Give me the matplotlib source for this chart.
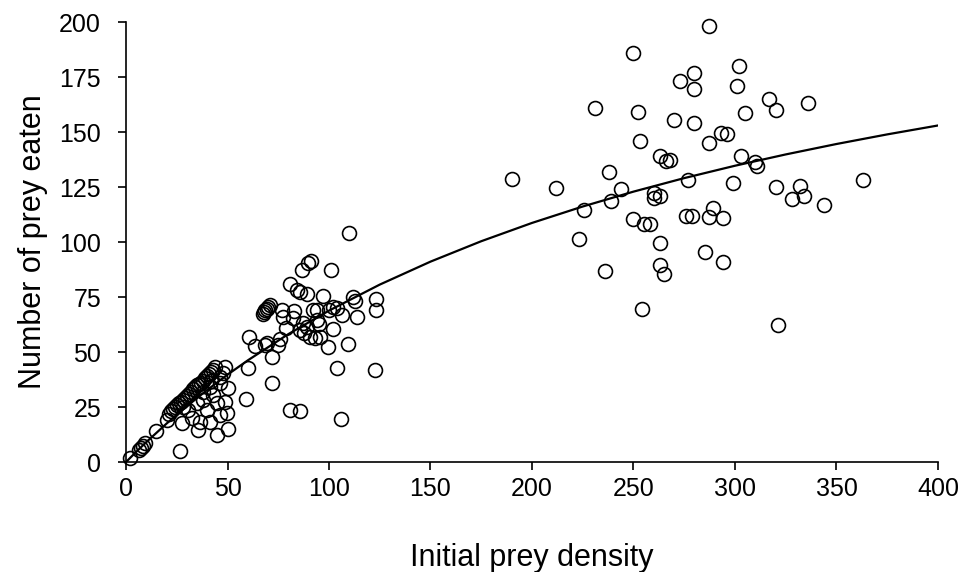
import numpy as np
import matplotlib.pyplot as plt

plt.rcParams['font.family'] = ['Liberation Sans', 'DejaVu Sans']

# observed points: initial prey density vs number eaten
low_x = [2, 6.5, 7.5, 8.5, 9.5, 15, 20, 26.6,
         21, 22, 23, 24, 25, 26, 27, 28, 29, 30, 31, 32, 33, 34, 35, 36,
         37, 38, 39, 40, 41, 42, 43, 44,
         48.8, 50.4, 50.4, 44.7, 35.6, 27.4, 32.4, 36.5, 41.4, 46.3, 49.6,
         48.8, 39.7, 30.7, 43, 41.4, 46.3, 44.7, 38.1, 34.8, 47.9, 46.3,
         42, 38, 28]
low_y = [2, 5.5, 6.5, 7.5, 8.5, 14, 19, 5,
         22, 23, 24, 25, 26, 27, 27.5, 28, 29, 30, 31, 32, 33, 34, 35, 35.5,
         36, 37, 38, 39, 40, 41, 42, 43,
         43.3, 33.5, 15, 12.5, 14.5, 17.6, 19.9, 18.3, 18.3, 21.4, 22.5,
         27.4, 23.6, 23.6, 30.5, 34.2, 35.8, 26.7, 28.2, 26.7, 40.3, 38.8,
         37, 32, 25]

mid_x = [110, 91, 89.5, 86.5, 101, 81, 84, 85.5, 89, 97, 112, 113, 123,
         123, 113.6, 102, 104, 100, 106.5, 94, 83, 82.5, 94, 95, 102, 77.5,
         79, 87.5, 90.6, 93, 95.6, 99.7, 109.5, 76, 75, 69.6, 68.5, 60.7,
         63.5, 71.8, 60, 103.8, 122.7, 71.8, 59, 80.8, 85.7, 105.9, 76.7,
         92.3, 87.3, 85.7, 89,
         67.5, 68, 68.7, 69.3, 70, 70.8]
mid_y = [104, 91.5, 90.3, 87.3, 87.3, 81, 78, 77.4, 76.5, 75.5, 75, 73,
         74.3, 69.2, 65.8, 70.3, 70, 69, 66.8, 69.1, 68.8, 65.3, 64.5, 62.7,
         60.5, 66, 61, 58.5, 56.7, 56.2, 56.7, 52.1, 53.6, 56, 53.2, 54, 53.2,
         57, 52.7, 47.9, 42.6, 42.6, 41.8, 36, 28.6, 23.6, 23.3, 19.4, 69.1,
         69.1, 63, 60, 61.5,
         67.5, 68.2, 69, 69.7, 70.5, 71.3]

high_x = [190, 287, 250, 280, 273, 280, 231, 252, 270, 280, 293, 296, 253,
          287, 263, 266, 268, 238, 212, 244, 277, 299, 302, 301, 305, 303,
          310, 311, 317, 320, 336, 320, 332, 334, 328, 344, 363, 321, 225.6,
          239, 260, 263, 260, 250, 255, 258, 276, 278.6, 287, 289, 294, 223,
          263, 285, 294, 263, 265, 236, 254]
high_y = [128.6, 198, 186, 177, 173, 169.4, 161, 159, 155.5, 154, 149.5,
          149.3, 146, 145, 139, 137, 137.5, 132, 124.5, 124, 128, 127, 180,
          171, 158.5, 139, 136.5, 134.5, 165, 160, 163, 125, 125.6, 121,
          119.5, 117, 128, 62.5, 114.5, 118.8, 122.5, 121, 119.8, 110.3,
          108.2, 108, 112, 112, 111.5, 115.5, 111, 101.5, 99.5, 95.3, 91,
          89.5, 85.3, 86.8, 69.5]

# fitted functional response
fit_x = [0, 5, 10, 20, 30, 40, 50, 60, 80, 100, 125, 150, 175, 200, 225,
         250, 275, 300, 325, 350, 375, 400]
fit_y = [0, 4.61, 9.05, 17.49, 25.38, 32.76, 39.69, 46.21, 58.15, 68.81,
         80.64, 91.08, 100.36, 108.67, 116.14, 122.90, 129.05, 134.67,
         139.81, 144.55, 148.92, 152.97]

x_all = low_x + mid_x + high_x
y_all = low_y + mid_y + high_y

fig = plt.figure(figsize=(9.62, 5.72), dpi=100)
ax = fig.add_axes([0.131, 0.1923, 0.844, 0.7692])

ax.plot(x_all, y_all, 'o', ms=10, mfc='none', mec='black', mew=1.2,
        clip_on=False)
ax.plot(fit_x, fit_y, color='black', lw=1.6)

ax.set_xlim(0, 400)
ax.set_ylim(0, 200)
ax.set_xticks(np.arange(0, 401, 50))
ax.set_yticks(np.arange(0, 201, 25))
for side in ['top', 'right']:
    ax.spines[side].set_visible(False)
for side in ['left', 'bottom']:
    ax.spines[side].set_linewidth(1.2)
ax.tick_params(direction='out', length=6, width=1.2, labelsize=18)
ax.tick_params(axis='x', pad=5)
ax.tick_params(axis='y', pad=12)
ax.set_xlabel('Initial prey density', fontsize=22, labelpad=30)
ax.set_ylabel('Number of prey eaten', fontsize=22, labelpad=8)

fig.savefig('out.png', dpi=100)
